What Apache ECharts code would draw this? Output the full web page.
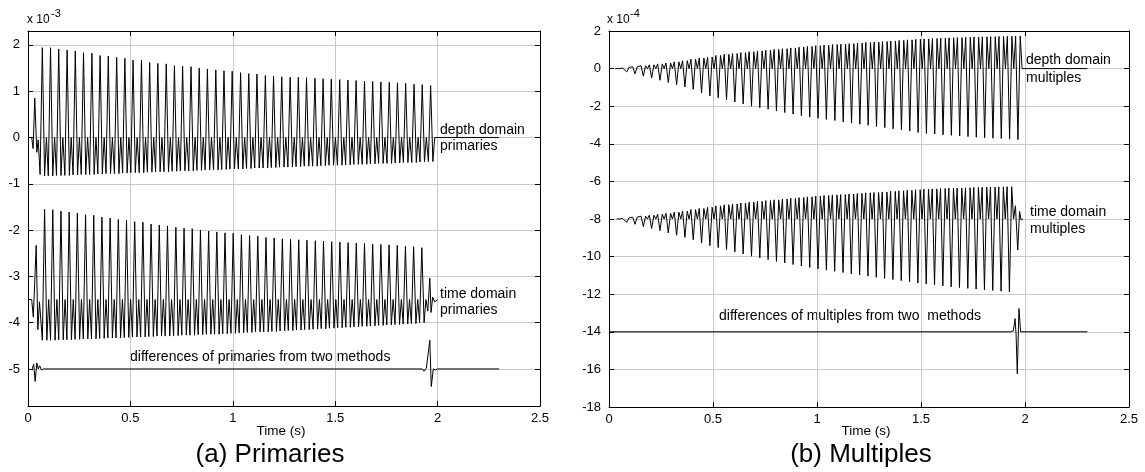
<!DOCTYPE html>
<html>
<head>
<meta charset="utf-8">
<script src="https://cdn.jsdelivr.net/npm/echarts@6/dist/echarts.min.js"></script>
<style>html,body{margin:0;padding:0;background:#fff}#c{width:1145px;height:472px}</style>
</head>
<body>
<div id="c"></div>
<script>
// ---------- tick labels ----------
const xTicks = [0, 0.5, 1, 1.5, 2, 2.5];
const primYTicks = [-5, -4, -3, -2, -1, 0, 1, 2];
const multYTicks = [-18, -16, -14, -12, -10, -8, -6, -4, -2, 0, 2];

// ---------- (a) depth domain primaries (x 1e-3) ----------
const primDepthLead = [[0,0],[0.018,0],[0.025,-0.24],[0.033,0.85],[0.043,-0.32],[0.05,-0.05],[0.059,-0.8]];
const primDepthTimes = [0.070,0.110,0.150,0.191,0.231,0.271,0.312,0.352,0.392,0.433,0.473,0.513,0.554,0.594,0.634,0.675,0.715,0.755,0.796,0.836,0.876,0.917,0.957,0.997,1.038,1.078,1.118,1.159,1.199,1.239,1.280,1.320,1.360,1.401,1.441,1.481,1.522,1.562,1.602,1.643,1.683,1.723,1.764,1.804,1.844,1.885,1.925,1.966];
const primDepthPeaks = [1.94,1.94,1.91,1.89,1.87,1.83,1.82,1.77,1.76,1.73,1.71,1.67,1.67,1.62,1.60,1.59,1.55,1.54,1.53,1.50,1.48,1.46,1.44,1.43,1.40,1.38,1.37,1.34,1.33,1.31,1.30,1.30,1.29,1.28,1.27,1.26,1.25,1.24,1.23,1.22,1.21,1.20,1.19,1.18,1.17,1.15,1.14,1.12];
const primDepthTroughs = [-0.83,-0.83,-0.82,-0.82,-0.81,-0.80,-0.80,-0.79,-0.78,-0.78,-0.77,-0.76,-0.76,-0.75,-0.74,-0.74,-0.73,-0.72,-0.72,-0.71,-0.70,-0.70,-0.69,-0.68,-0.68,-0.67,-0.66,-0.66,-0.65,-0.64,-0.64,-0.63,-0.62,-0.62,-0.61,-0.60,-0.60,-0.59,-0.58,-0.58,-0.57,-0.56,-0.56,-0.55,-0.54,-0.54,-0.53,-0.52];
const primDepthTail = [[1.977,-0.52],[1.986,0],[2.3,0]];

// ---------- (a) time domain primaries ----------
const primTimeLead = [[0,-3.5],[0.018,-3.5],[0.026,-3.88],[0.04,-2.33],[0.048,-4.15],[0.056,-3.55],[0.070,-4.38]];
const primTimeTimes = [0.081,0.121,0.161,0.201,0.241,0.281,0.321,0.361,0.401,0.441,0.481,0.521,0.561,0.601,0.641,0.681,0.722,0.762,0.802,0.842,0.882,0.922,0.962,1.002,1.042,1.082,1.122,1.162,1.202,1.242,1.282,1.322,1.362,1.403,1.443,1.483,1.523,1.563,1.603,1.643,1.683,1.723,1.763,1.803,1.843,1.883,1.923];
const primTimePeaks = [-1.55,-1.56,-1.59,-1.61,-1.63,-1.67,-1.68,-1.72,-1.74,-1.77,-1.79,-1.82,-1.83,-1.87,-1.89,-1.91,-1.94,-1.96,-1.97,-2.00,-2.02,-2.04,-2.06,-2.07,-2.10,-2.12,-2.13,-2.16,-2.17,-2.19,-2.20,-2.21,-2.22,-2.23,-2.24,-2.25,-2.26,-2.27,-2.28,-2.29,-2.30,-2.31,-2.32,-2.33,-2.35,-2.36,-2.38];
const primTimeTroughs = [-4.38,-4.38,-4.37,-4.37,-4.36,-4.35,-4.35,-4.34,-4.33,-4.33,-4.32,-4.31,-4.31,-4.30,-4.29,-4.29,-4.28,-4.27,-4.27,-4.26,-4.25,-4.25,-4.24,-4.23,-4.22,-4.21,-4.20,-4.20,-4.19,-4.18,-4.17,-4.16,-4.15,-4.14,-4.13,-4.12,-4.11,-4.10,-4.09,-4.08,-4.07,-4.06,-4.05,-4.04,-4.03,-4.02,-4.00];
const primTimeTail = [[1.934,-4.0],[1.943,-3.5],[1.952,-3.75],[1.962,-3.04],[1.968,-3.78],[1.976,-3.45],[1.986,-3.55],[2.0,-3.5]];

// ---------- (a) differences of primaries ----------
const primDiff = [[0.02,-5],[0.028,-4.9],[0.035,-5.27],[0.043,-4.87],[0.05,-5.0],[0.057,-4.93],[0.065,-5.02],[0.075,-5],[1.925,-5],[1.934,-5.05],[1.945,-4.98],[1.962,-4.38],[1.969,-5.38],[1.979,-5.0],[1.99,-5.02],[2.0,-5],[2.3,-5]];

// ---------- (b) depth domain multiples (x 1e-4) ----------
const multDepthLead = [[0.03,0],[0.05,0],[0.058,-0.04],[0.066,0.03],[0.074,0.06]];
const multDepthTimes = [0.085,0.125,0.165,0.205,0.245,0.285,0.325,0.365,0.405,0.445,0.485,0.525,0.565,0.605,0.645,0.685,0.725,0.765,0.805,0.845,0.885,0.925,0.965,1.005,1.045,1.086,1.126,1.166,1.206,1.246,1.286,1.326,1.366,1.406,1.446,1.486,1.526,1.566,1.606,1.646,1.686,1.726,1.766,1.806,1.846,1.886,1.926,1.966];
const multDepthTroughs = [-0.18,-0.28,-0.40,-0.50,-0.62,-0.74,-0.86,-0.98,-1.10,-1.30,-1.45,-1.55,-1.65,-1.78,-1.88,-2.00,-2.08,-2.16,-2.26,-2.34,-2.42,-2.50,-2.58,-2.64,-2.70,-2.76,-2.84,-2.90,-2.96,-3.02,-3.08,-3.14,-3.20,-3.26,-3.32,-3.40,-3.45,-3.48,-3.52,-3.55,-3.58,-3.62,-3.65,-3.68,-3.70,-3.72,-3.75,-3.78];
const multDepthPeaks = [0.06,0.10,0.15,0.20,0.25,0.30,0.36,0.42,0.50,0.56,0.62,0.70,0.76,0.80,0.85,0.90,0.94,0.98,1.02,1.06,1.10,1.14,1.18,1.22,1.25,1.28,1.30,1.33,1.36,1.39,1.41,1.44,1.47,1.50,1.53,1.56,1.58,1.60,1.62,1.64,1.65,1.66,1.68,1.69,1.70,1.71,1.72,1.73];
const multDepthTail = [[1.977,1.73],[1.986,0],[2.3,0]];

// ---------- (b) time domain multiples ----------
const multTimeLead = [[0.037,-8],[0.05,-8],[0.058,-8.05],[0.066,-7.97],[0.074,-7.94]];
const multTimeTimes = [0.085,0.125,0.165,0.205,0.245,0.285,0.325,0.365,0.405,0.445,0.485,0.525,0.565,0.605,0.645,0.685,0.725,0.765,0.805,0.845,0.885,0.925,0.965,1.005,1.045,1.085,1.125,1.165,1.205,1.245,1.285,1.325,1.365,1.405,1.445,1.485,1.525,1.565,1.605,1.645,1.685,1.725,1.765,1.805,1.845,1.885,1.925];
const multTimeTroughs = [-8.18,-8.28,-8.40,-8.50,-8.62,-8.74,-8.86,-8.98,-9.10,-9.28,-9.42,-9.52,-9.62,-9.75,-9.86,-9.98,-10.07,-10.16,-10.26,-10.34,-10.42,-10.50,-10.58,-10.65,-10.72,-10.78,-10.85,-10.92,-10.98,-11.04,-11.10,-11.16,-11.22,-11.28,-11.34,-11.41,-11.46,-11.51,-11.56,-11.61,-11.65,-11.69,-11.73,-11.77,-11.80,-11.84,-11.88];
const multTimePeaks = [-7.94,-7.90,-7.85,-7.80,-7.75,-7.70,-7.64,-7.58,-7.50,-7.44,-7.38,-7.30,-7.24,-7.20,-7.15,-7.10,-7.06,-7.02,-6.98,-6.94,-6.90,-6.86,-6.82,-6.78,-6.75,-6.72,-6.70,-6.67,-6.64,-6.61,-6.59,-6.56,-6.53,-6.50,-6.47,-6.44,-6.42,-6.40,-6.38,-6.36,-6.35,-6.34,-6.32,-6.31,-6.30,-6.29,-6.28];
const multTimeTail = [[1.936,-6.28],[1.945,-8.0],[1.954,-7.3],[1.965,-9.65],[1.974,-7.6],[1.981,-8.05],[1.99,-8.0]];

// ---------- (b) differences of multiples ----------
const multDiff = [[0,-14],[1.93,-14],[1.938,-14.08],[1.944,-13.95],[1.952,-13.3],[1.957,-14.1],[1.963,-16.23],[1.971,-12.76],[1.979,-14.0],[2.3,-14]];

// wavelet side-lobe position and mid-cycle (baseline) position, seconds after each event
const lobeOffset = 0.011;
const midOffset = 0.02;

function buildTrace(lead, times, main, lobes, base, tail) {
  const pts = lead.slice();
  for (let k = 0; k < times.length; k++) {
    if (k > 0) pts.push([times[k] - lobeOffset, lobes[k]]);
    pts.push([times[k], main[k]]);
    if (k < times.length - 1) {
      pts.push([times[k] + lobeOffset, lobes[k]]);
      pts.push([times[k] + midOffset, base]);
    }
  }
  return pts.concat(tail);
}

const FONT = 'Liberation Sans, Arial, Helvetica, sans-serif';
const GRID_GRAY = '#c8c8c8';

function xAx(gi, top) {
  return {
    type: 'value', gridIndex: gi, min: 0, max: 2.5, interval: 0.5,
    position: top ? 'top' : 'bottom',
    axisLine: { show: true, onZero: false, lineStyle: { color: '#000', width: 1 } },
    axisTick: { show: true, inside: true, length: 5, lineStyle: { color: '#000' } },
    axisLabel: { show: !top, color: '#000', fontSize: 13, fontFamily: FONT, margin: 6 },
    splitLine: { show: !top, lineStyle: { color: GRID_GRAY, width: 1 } }
  };
}
function yAx(gi, right, min, max, ticks, interval) {
  const a = {
    type: 'value', gridIndex: gi, min: min, max: max,
    position: right ? 'right' : 'left',
    axisLine: { show: true, onZero: false, lineStyle: { color: '#000', width: 1 } },
    axisTick: { show: true, inside: true, length: 5, lineStyle: { color: '#000' } },
    axisLabel: { show: !right, color: '#000', fontSize: 13, fontFamily: FONT, margin: 8 },
    splitLine: { show: !right, lineStyle: { color: GRID_GRAY, width: 1 } }
  };
  if (interval) a.interval = interval;
  else { a.axisTick.customValues = ticks; a.axisLabel.customValues = ticks; }
  return a;
}
function line(xi, yi, data) {
  return { type: 'line', xAxisIndex: xi, yAxisIndex: yi, data: data, showSymbol: false, symbol: 'none',
    lineStyle: { color: '#000', width: 1 }, itemStyle: { color: '#000' }, sampling: null, animation: false, silent: true };
}
function txt(x, y, s, size, align) {
  return { type: 'text', x: x, y: y, silent: true,
    style: { text: s, fill: '#000', font: size + 'px ' + FONT, textAlign: align || 'left', textVerticalAlign: 'middle' } };
}

const chart = echarts.init(document.getElementById('c'), null, { renderer: 'canvas' });
chart.setOption({
  animation: false,
  backgroundColor: '#fff',
  grid: [
    { left: 28, top: 31, width: 512, height: 375, containLabel: false },
    { left: 609, top: 31, width: 520, height: 376, containLabel: false }
  ],
  xAxis: [xAx(0, false), xAx(0, true), xAx(1, false), xAx(1, true)],
  yAxis: [
    yAx(0, false, -5.8, 2.3, primYTicks), yAx(0, true, -5.8, 2.3, primYTicks),
    yAx(1, false, -18, 2, multYTicks, 2), yAx(1, true, -18, 2, multYTicks, 2)
  ],
  series: [
    line(0, 0, buildTrace(primDepthLead, primDepthTimes, primDepthPeaks, primDepthTroughs, 0, primDepthTail)),
    line(0, 0, buildTrace(primTimeLead, primTimeTimes, primTimePeaks, primTimeTroughs, -3.5, primTimeTail)),
    line(0, 0, primDiff),
    line(2, 2, buildTrace(multDepthLead, multDepthTimes, multDepthTroughs, multDepthPeaks, 0, multDepthTail)),
    line(2, 2, buildTrace(multTimeLead, multTimeTimes, multTimeTroughs, multTimePeaks, -8, multTimeTail)),
    line(2, 2, multDiff)
  ],
  graphic: [
    txt(27, 20, 'x 10', 12), txt(51, 14, '-3', 11),
    txt(607, 20, 'x 10', 12), txt(630, 14, '-4', 11),
    txt(440, 130, 'depth domain', 14), txt(440, 146, 'primaries', 14),
    txt(440, 294, 'time domain', 14), txt(440, 310, 'primaries', 14),
    txt(130, 357, 'differences of primaries from two methods', 14),
    txt(1026, 60, 'depth domain', 14), txt(1026, 78, 'multiples', 14),
    txt(1030, 212, 'time domain', 14), txt(1030, 229, 'multiples', 14),
    txt(719, 316, 'differences of multiples from two  methods', 14),
    txt(281, 431, 'Time (s)', 13.5, 'center'), txt(866, 431, 'Time (s)', 13.5, 'center'),
    txt(270, 455, '(a) Primaries', 26, 'center'), txt(861, 455, '(b) Multiples', 26, 'center')
  ]
});
</script>
</body>
</html>
